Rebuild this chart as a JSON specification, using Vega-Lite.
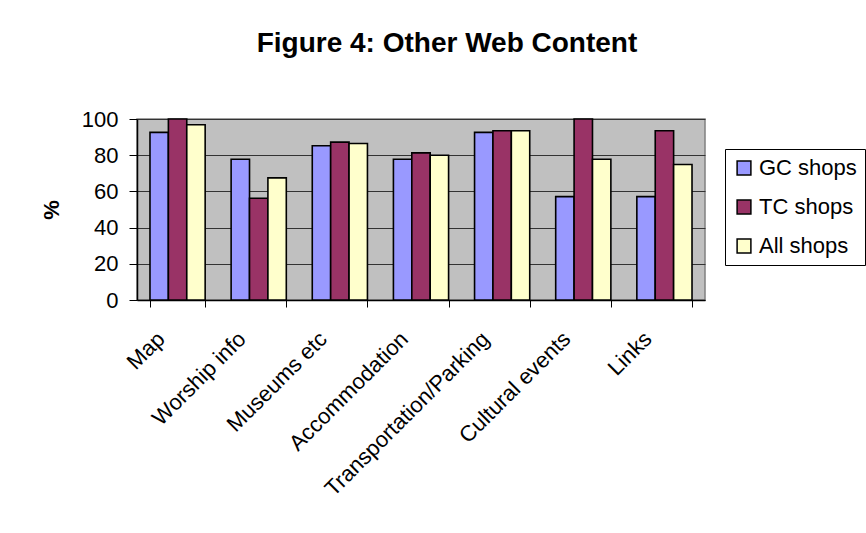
{
  "$schema": "https://vega.github.io/schema/vega-lite/v6.json",
  "width": 568,
  "height": 181,
  "autosize": {"type": "none"},
  "padding": {"left": 137, "top": 119, "right": 161, "bottom": 233},
  "background": "white",
  "title": {
    "text": "Figure 4: Other Web Content",
    "font": "Liberation Sans",
    "fontSize": 28,
    "fontWeight": "bold",
    "color": "black",
    "anchor": "middle",
    "frame": "group",
    "dx": 26,
    "offset": 50
  },
  "data": {
    "values": [
      {"item": "Map", "group": "GC shops", "pct": 92.6},
      {"item": "Map", "group": "TC shops", "pct": 100},
      {"item": "Map", "group": "All shops", "pct": 96.8},
      {"item": "Worship info", "group": "GC shops", "pct": 77.8},
      {"item": "Worship info", "group": "TC shops", "pct": 56.2},
      {"item": "Worship info", "group": "All shops", "pct": 67.5},
      {"item": "Museums etc", "group": "GC shops", "pct": 85.2},
      {"item": "Museums etc", "group": "TC shops", "pct": 87.2},
      {"item": "Museums etc", "group": "All shops", "pct": 86.5},
      {"item": "Accommodation", "group": "GC shops", "pct": 77.8},
      {"item": "Accommodation", "group": "TC shops", "pct": 81.3},
      {"item": "Accommodation", "group": "All shops", "pct": 80},
      {"item": "Transportation/Parking", "group": "GC shops", "pct": 92.6},
      {"item": "Transportation/Parking", "group": "TC shops", "pct": 93.5},
      {"item": "Transportation/Parking", "group": "All shops", "pct": 93.5},
      {"item": "Cultural events", "group": "GC shops", "pct": 57.1},
      {"item": "Cultural events", "group": "TC shops", "pct": 100},
      {"item": "Cultural events", "group": "All shops", "pct": 77.8},
      {"item": "Links", "group": "GC shops", "pct": 57.1},
      {"item": "Links", "group": "TC shops", "pct": 93.5},
      {"item": "Links", "group": "All shops", "pct": 74.9}
    ]
  },
  "mark": {"type": "bar", "stroke": "black", "strokeWidth": 1.6},
  "encoding": {
    "x": {
      "field": "item",
      "type": "nominal",
      "sort": null,
      "scale": {"paddingInner": 0.32, "paddingOuter": 0.16},
      "axis": {
        "title": null,
        "labelAngle": -45,
        "labelFont": "Liberation Sans",
        "labelFontSize": 22,
        "labelColor": "black",
        "labelPadding": 21,
        "labelOffset": -24,
        "labelLimit": 400,
        "tickBand": "extent",
        "tickColor": "black",
        "tickSize": 7,
        "tickWidth": 1,
        "domainColor": "black",
        "domainWidth": 1.5,
        "grid": false
      }
    },
    "xOffset": {"field": "group", "type": "nominal", "sort": ["GC shops", "TC shops", "All shops"]},
    "y": {
      "field": "pct",
      "type": "quantitative",
      "scale": {"domain": [0, 100], "nice": false},
      "axis": {
        "title": "%",
        "titleFont": "Liberation Sans",
        "titleFontSize": 22,
        "titleFontWeight": "bold",
        "titleColor": "black",
        "titlePadding": 18,
        "values": [0, 20, 40, 60, 80, 100],
        "labelFont": "Liberation Sans",
        "labelFontSize": 22,
        "labelColor": "black",
        "labelPadding": 11,
        "tickColor": "black",
        "tickSize": 8,
        "domainColor": "black",
        "domainWidth": 1.5,
        "grid": true,
        "gridColor": "#333333",
        "gridWidth": 1
      }
    },
    "color": {
      "field": "group",
      "type": "nominal",
      "sort": ["GC shops", "TC shops", "All shops"],
      "scale": {
        "domain": ["GC shops", "TC shops", "All shops"],
        "range": ["#9999ff", "#993366", "#ffffcc"]
      },
      "legend": {
        "title": null,
        "orient": "none",
        "legendX": 588,
        "legendY": 30,
        "symbolType": "square",
        "symbolSize": 190,
        "symbolStrokeColor": "black",
        "symbolStrokeWidth": 1.5,
        "labelFont": "Liberation Sans",
        "labelFontSize": 22,
        "labelColor": "black",
        "labelOffset": 4,
        "labelLimit": 300,
        "rowPadding": 17,
        "padding": 8,
        "strokeColor": "black",
        "fillColor": "white"
      }
    }
  },
  "config": {
    "view": {"fill": "#c0c0c0", "stroke": "#808080", "strokeWidth": 1.5}
  }
}
